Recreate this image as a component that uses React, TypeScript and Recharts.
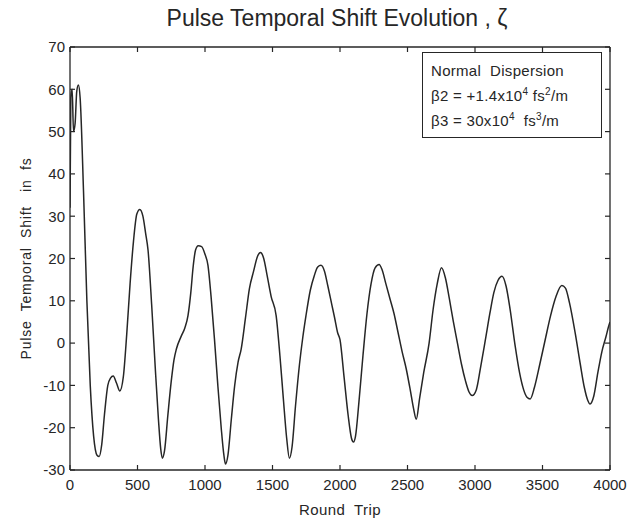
import React from "react";
import { LineChart, Line, XAxis, YAxis, Label } from "recharts";

const roundTrip = [
  0, 6, 16, 26, 38, 50, 62, 75, 100, 125, 150, 175, 200, 216, 235, 255, 280, 300, 320, 345, 369, 395,
  420, 445, 470, 495, 517, 540, 560, 578, 605, 630, 655, 672, 684, 700, 725, 750, 770, 788, 825, 850,
  874, 895, 912, 930, 950, 975, 1000, 1022, 1045, 1070, 1095, 1120, 1140, 1152, 1170, 1195, 1220, 1245,
  1268, 1300, 1329, 1360, 1390, 1411, 1435, 1460, 1490, 1527, 1555, 1580, 1605, 1625, 1645, 1670, 1700,
  1725, 1748, 1780, 1810, 1835, 1859, 1885, 1910, 1940, 1960, 1982, 2000, 2030, 2060, 2085, 2100, 2115,
  2140, 2170, 2200, 2230, 2260, 2290, 2310, 2340, 2370, 2400, 2430, 2460, 2490, 2520, 2545, 2565, 2590,
  2620, 2660, 2690, 2720, 2752, 2780, 2810, 2840, 2870, 2900, 2930, 2955, 2979, 3010, 3040, 3077, 3110,
  3140, 3170, 3200, 3230, 3260, 3298, 3330, 3360, 3385, 3409, 3440, 3480, 3520, 3560, 3600, 3643, 3670,
  3700, 3742, 3780, 3810, 3835, 3852, 3880, 3910, 3940, 3970, 3990, 4000,
];

const temporalShift = [
  32, 58, 60, 50, 52, 59.5, 61, 58, 36, 10, -10, -22, -26.5, -26.8, -24, -17, -10, -8.3, -7.8, -9.5, -11.3, -8,
  2, 14, 24, 30.5, 31.6, 30, 26, 22, 9, -5, -18, -25, -27.2, -25.5, -17, -9, -4, -1.4, 1.7, 3.5,
  6.5, 12, 18, 22, 23, 22.8, 21, 18.4, 11, 1, -10, -20, -26.5, -28.6, -26.5, -18, -10, -4.5,
  -1.4, 6, 12.9, 17, 20.6, 21.4, 20, 16, 11, 6.5, -3, -13, -22.5, -27.2, -24.5, -15, -5,
  1.5, 6.5, 12.5, 16, 18, 18.4, 17, 13.5, 9, 6, 2.5, 0.8, -8, -17, -22.5, -23.4, -22,
  -14, -3, 7, 14, 17.8, 18.6, 17.5, 14, 10.5, 7, 2.5, -2, -6, -11, -15.5, -18, -13,
  -7, 0, 8, 14, 17.8, 15.5, 10.5, 5, 0, -5, -9, -11.5, -12.4, -11, -6, 0.8, 7,
  12, 14.8, 15.8, 13.5, 8, -0.8, -7, -11, -12.8, -13.2, -10.5, -5, 0.8, 6.5, 11, 13.6, 13,
  9.5, 2.4, -5, -10.5, -13.5, -14.4, -12.5, -7, -2, 1.5, 4, 5,
];

const xTicks = [0, 500, 1000, 1500, 2000, 2500, 3000, 3500, 4000];
const yTicks = [-30, -20, -10, 0, 10, 20, 30, 40, 50, 60, 70];

const chartTitle = "Pulse Temporal Shift Evolution , ζ";
const xLabel = "Round\u00a0 Trip";
const yLabel = "Pulse\u00a0 Temporal\u00a0 Shift\u00a0 \u00a0in\u00a0 fs";

const data = roundTrip.map((t, i) => ({ t, v: temporalShift[i] }));

const FONT = '"Liberation Sans", Arial, sans-serif';
const INK = "#262626";
const blank = () => "";

export default function App() {
  return (
    <div style={{ position: "absolute", left: 0, top: 0, width: 638, height: 527, background: "#fff", fontFamily: FONT }}>
      <div
        style={{
          position: "absolute",
          left: 0,
          width: 674,
          top: 6,
          textAlign: "center",
          fontSize: 23,
          color: INK,
          lineHeight: "24px",
          whiteSpace: "pre",
        }}
      >
        {chartTitle}
      </div>
      <LineChart width={638} height={527} data={data} margin={{ top: 47, right: 28, bottom: 7, left: 10 }}>
        <XAxis
          xAxisId="b"
          dataKey="t"
          type="number"
          domain={[0, 4000]}
          ticks={xTicks}
          allowDataOverflow
          tickLine={false}
          tickSize={0}
          tickMargin={9}
          height={50}
          axisLine={{ stroke: INK, strokeWidth: 1.3 }}
          tick={{ fill: INK, fontSize: 15, fontFamily: FONT }}
        >
          <Label
            value={xLabel}
            position="insideBottom"
            offset={5}
            style={{ fill: INK, fontSize: 15, fontFamily: FONT, letterSpacing: 0.4 }}
          />
        </XAxis>
        <XAxis
          xAxisId="bm"
          dataKey="t"
          type="number"
          domain={[0, 4000]}
          ticks={xTicks}
          allowDataOverflow
          orientation="bottom"
          mirror
          tickSize={5}
          tickFormatter={blank}
          axisLine={false}
          tickLine={{ stroke: INK, strokeWidth: 1.2 }}
        />
        <XAxis
          xAxisId="top"
          dataKey="t"
          type="number"
          domain={[0, 4000]}
          ticks={xTicks}
          allowDataOverflow
          orientation="top"
          mirror
          tickSize={5}
          tickFormatter={blank}
          axisLine={{ stroke: INK, strokeWidth: 1.3 }}
          tickLine={{ stroke: INK, strokeWidth: 1.2 }}
        />
        <YAxis
          yAxisId="l"
          type="number"
          domain={[-30, 70]}
          ticks={yTicks}
          allowDataOverflow
          width={60}
          tickLine={false}
          tickSize={0}
          tickMargin={5}
          axisLine={{ stroke: INK, strokeWidth: 1.3 }}
          tick={{ fill: INK, fontSize: 15, fontFamily: FONT }}
        >
          <Label
            value={yLabel}
            angle={-90}
            position="insideLeft"
            offset={16}
            style={{ fill: INK, fontSize: 14, fontFamily: FONT, textAnchor: "middle", letterSpacing: 0.8 }}
          />
        </YAxis>
        <YAxis
          yAxisId="lm"
          type="number"
          domain={[-30, 70]}
          ticks={yTicks}
          allowDataOverflow
          orientation="left"
          mirror
          tickSize={5}
          tickFormatter={blank}
          axisLine={false}
          tickLine={{ stroke: INK, strokeWidth: 1.2 }}
        />
        <YAxis
          yAxisId="r"
          type="number"
          domain={[-30, 70]}
          ticks={yTicks}
          allowDataOverflow
          orientation="right"
          mirror
          tickSize={5}
          tickFormatter={blank}
          axisLine={{ stroke: INK, strokeWidth: 1.3 }}
          tickLine={{ stroke: INK, strokeWidth: 1.2 }}
        />
        <Line
          xAxisId="b"
          yAxisId="l"
          dataKey="v"
          type="monotone"
          dot={false}
          stroke={INK}
          strokeWidth={1.5}
          isAnimationActive={false}
        />
      </LineChart>
      <div
        style={{
          position: "absolute",
          left: 422,
          top: 52,
          width: 180,
          height: 86,
          border: `1.3px solid ${INK}`,
          background: "#fff",
          color: INK,
          fontSize: 15,
          letterSpacing: 0.3,
          lineHeight: "25px",
          paddingLeft: 8,
          paddingTop: 5,
          boxSizing: "border-box",
          whiteSpace: "pre",
        }}
      >
        <div>{"Normal  Dispersion"}</div>
        <div>
          {"β2 = +1.4x10"}
          <sup style={{ fontSize: 10, lineHeight: 0 }}>4</sup>
          {" fs"}
          <sup style={{ fontSize: 10, lineHeight: 0 }}>2</sup>
          {"/m"}
        </div>
        <div>
          {"β3 = 30x10"}
          <sup style={{ fontSize: 10, lineHeight: 0 }}>4</sup>
          {"  fs"}
          <sup style={{ fontSize: 10, lineHeight: 0 }}>3</sup>
          {"/m"}
        </div>
      </div>
    </div>
  );
}
